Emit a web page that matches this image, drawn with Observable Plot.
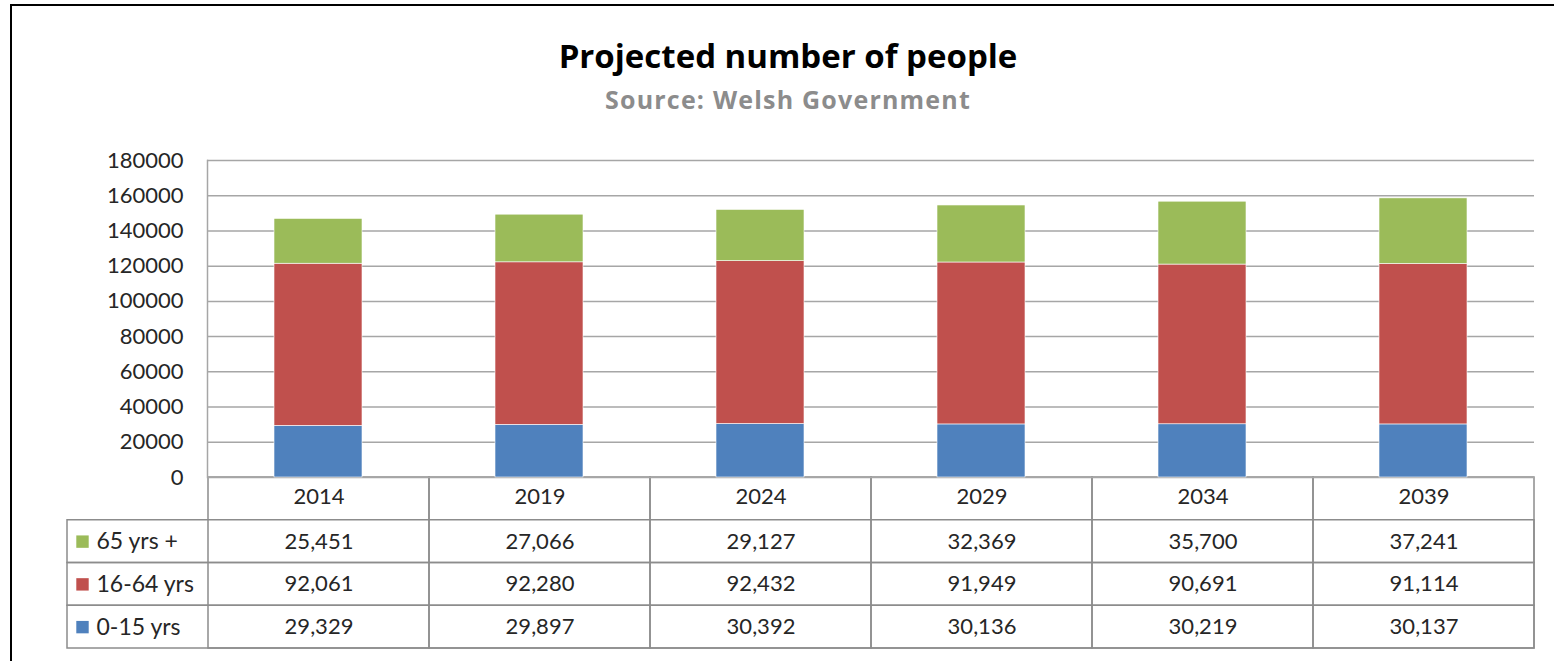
<!DOCTYPE html>
<html><head><meta charset="utf-8">
<script src="https://cdn.jsdelivr.net/npm/d3@7"></script>
<script src="https://cdn.jsdelivr.net/npm/@observablehq/plot@0.6"></script>
<style>
body{margin:0;background:#fff;font-family:Lato,"Open Sans",sans-serif;}
#wrap{position:relative;width:1554px;height:661px;overflow:hidden;background:#fff;}
#border{position:absolute;left:10px;top:4px;width:1600px;height:700px;border-top:2px solid #000;border-left:2px solid #000;}
#title{position:absolute;left:0;width:1576px;top:36px;text-align:center;font-family:"Open Sans",Lato,sans-serif;font-weight:bold;font-size:33px;line-height:40px;color:#000;}
#subtitle{position:absolute;left:0;width:1576px;top:83px;text-align:center;font-family:"Open Sans",Lato,sans-serif;font-weight:bold;font-size:25px;letter-spacing:1.2px;line-height:32px;color:#8c8c8c;}
#chart{position:absolute;left:0;top:140px;}
#table{position:absolute;left:0;top:476px;}
svg{overflow:visible;}
</style></head>
<body><div id="wrap">
<div id="border"></div>
<div id="title">Projected number of people</div>
<div id="subtitle">Source: Welsh Government</div>
<div id="table"></div>
<div id="chart"></div>
</div>
<script>
const years = ["2014","2019","2024","2029","2034","2039"];
const seriesNames = ["0-15 yrs","16-64 yrs","65 yrs +"];
const age0to15 = [29329,29897,30392,30136,30219,30137];
const age16to64 = [92061,92280,92432,91949,90691,91114];
const age65plus = [25451,27066,29127,32369,35700,37241];
const seriesColors = ["#4f81bd","#c0504d","#9bbb59"];
const yTicks = [0,20000,40000,60000,80000,100000,120000,140000,160000,180000];
const tableRowOrder = ["65 yrs +","16-64 yrs","0-15 yrs"];

const seriesValues = {"0-15 yrs": age0to15, "16-64 yrs": age16to64, "65 yrs +": age65plus};
const long = [];
for (const s of seriesNames) years.forEach((y,i)=>long.push({year:y, series:s, value:seriesValues[s][i]}));
const colorOf = s => seriesColors[seriesNames.indexOf(s)];
const rowOf = s => tableRowOrder.indexOf(s) + 1;

const chart = Plot.plot({
  width:1554, height:352, marginTop:20, marginBottom:15, marginLeft:207, marginRight:20,
  style:{fontFamily:"Lato, 'Open Sans', sans-serif", fontSize:"22px", color:"#262626", background:"transparent", overflow:"visible"},
  x:{domain:years, paddingInner:0.6, paddingOuter:0.3, axis:null},
  y:{domain:[0,180000], axis:null},
  color:{domain:seriesNames, range:seriesColors},
  marks:[
    Plot.gridY(yTicks, {stroke:"#a6a6a6", strokeOpacity:1, strokeWidth:1.5}),
    Plot.axisY(yTicks, {tickSize:0, tickPadding:24, tickFormat:d=>String(d), label:null}),
    Plot.frame({anchor:"left", stroke:"#a6a6a6", strokeWidth:1.5}),
    Plot.barY(long, {x:"year", y:"value", fill:"series", order:seriesNames, stroke:"#ffffff", strokeWidth:0.6})
  ]
});
document.getElementById("chart").appendChild(chart);

const table = Plot.plot({
  width:1554, height:175, marginTop:1, marginBottom:3, marginLeft:67, marginRight:20,
  style:{fontFamily:"Lato, 'Open Sans', sans-serif", fontSize:"22px", color:"#262626", background:"transparent"},
  x:{domain:years, padding:0, insetLeft:140, axis:null},
  y:{domain:[0,4], reverse:true, axis:null},
  marks:[
    Plot.rect(tableRowOrder, {y1:d=>rowOf(d), y2:d=>rowOf(d)+1, fill:"none", stroke:"#8c8c8c", strokeWidth:1.5}),
    Plot.barY(years, {x:d=>d, y1:()=>0, y2:()=>4, fill:"none", stroke:"#8c8c8c", strokeWidth:1.5}),
    Plot.text(years, {x:d=>d, y:()=>0.5, dy:-2, text:d=>d, fill:"#262626"}),
    Plot.text(long, {x:"year", y:d=>rowOf(d.series)+0.5, text:d=>d3.format(",")(d.value), fill:"#262626"}),
    Plot.dot(tableRowOrder, {y:d=>rowOf(d)+0.5, frameAnchor:"left", dx:15, symbol:"square", r:7, fill:d=>colorOf(d), stroke:"none"}),
    Plot.text(tableRowOrder, {y:d=>rowOf(d)+0.5, frameAnchor:"left", textAnchor:"start", dx:29, text:d=>d, fill:"#262626", fontSize:23, wordSpacing:3})
  ]
});
document.getElementById("table").appendChild(table);
</script>
</body></html>
